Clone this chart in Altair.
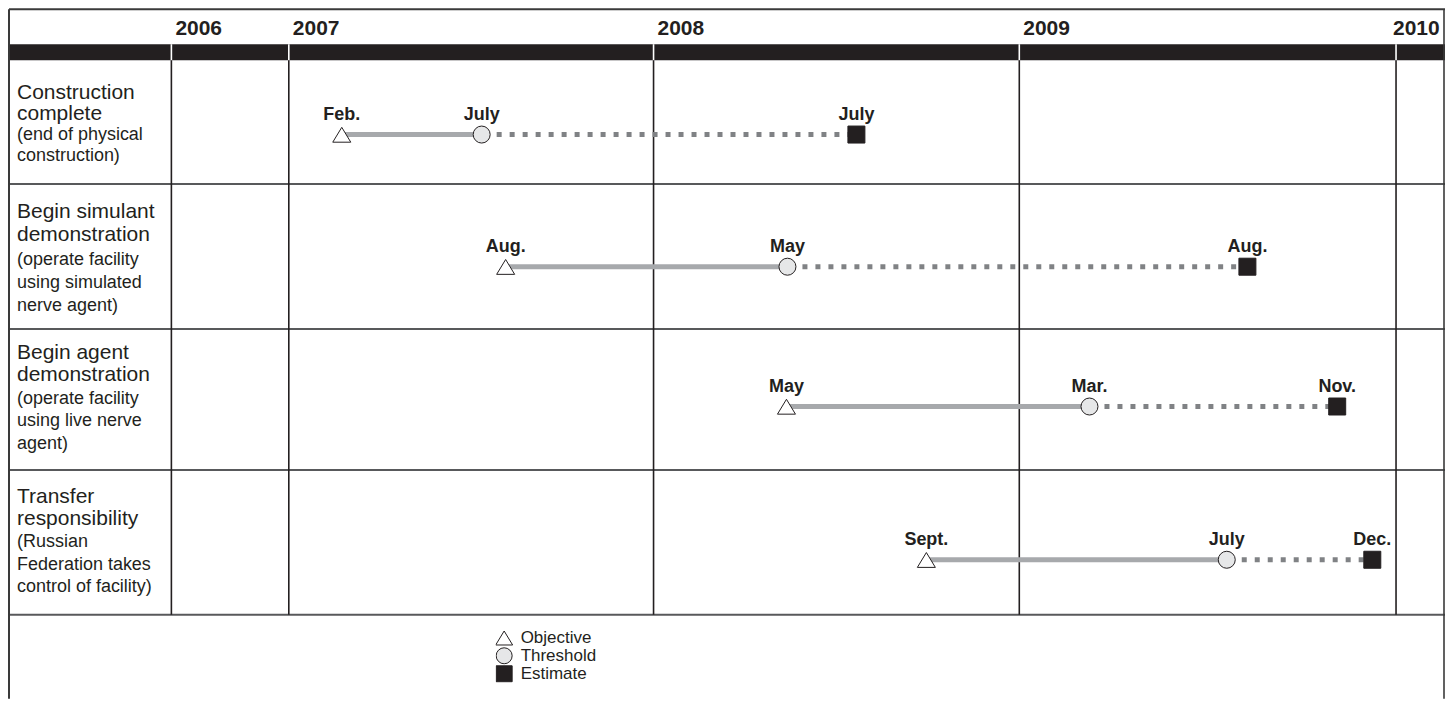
import altair as alt
import pandas as pd

# ---------------- data ----------------
years = [2006, 2007, 2008, 2009, 2010]
label_titles = [
    ["Construction", "complete"],
    ["Begin simulant", "demonstration"],
    ["Begin agent", "demonstration"],
    ["Transfer", "responsibility"],
]
label_notes = [
    ["(end of physical", "construction)"],
    ["(operate facility", "using simulated", "nerve agent)"],
    ["(operate facility", "using live nerve", "agent)"],
    ["(Russian", "Federation takes", "control of facility)"],
]
objective_dates = ["2007-02-23", "2007-08-06", "2008-05-13", "2008-09-30"]
threshold_dates = ["2007-07-13", "2008-05-14", "2009-03-10", "2009-07-21"]
estimate_dates = ["2008-07-22", "2009-08-10", "2009-11-05", "2009-12-09"]
objective_labels = ["Feb.", "Aug.", "May", "Sept."]
threshold_labels = ["July", "May", "Mar.", "July"]
estimate_labels = ["July", "Aug.", "Nov.", "Dec."]
kinds = ["Objective", "Threshold", "Estimate"]

# ---------------- layout / style ----------------
FONT = "Liberation Sans"
INK = "#231f20"
W, H = 1437, 690
X_STOPS = [162.5, 280, 645, 1011, 1388]          # pixel stops of the year lines
Y_UNITS = [-2, -1, 0, 1, 2, 3, 4, 5]             # header top, band top, row bounds, bottom
Y_STOPS = [0, 35, 51, 175, 320, 461, 606, H]
LABEL_START = [0.315, 0.235, 0.21, 0.225]
LABEL_STEP = [0.165, 0.16, 0.16, 0.155]
MARK_FRAC = [0.60, 0.57, 0.55, 0.62]
TRI = "M0,-0.85L1.06,0.9L-1.06,0.9Z"

XS = alt.Scale(domain=years, range=X_STOPS, nice=False, zero=False)
YS = alt.Scale(domain=Y_UNITS, range=Y_STOPS, nice=False, zero=False)


def dec_year(s):
    d = pd.Timestamp(s)
    days = 366 if d.is_leap_year else 365
    return d.year + (d.dayofyear - 1) / days


# markers
mrows, srows = [], []
for r in range(4):
    yv = r + MARK_FRAC[r]
    trip = [(kinds[0], objective_dates[r], objective_labels[r]),
            (kinds[1], threshold_dates[r], threshold_labels[r]),
            (kinds[2], estimate_dates[r], estimate_labels[r])]
    for k, d, lab in trip:
        mrows.append({"kind": k, "xv": dec_year(d), "yv": yv, "label": lab})
    srows.append({"x_obj": dec_year(objective_dates[r]),
                  "x_thr": dec_year(threshold_dates[r]),
                  "x_est": dec_year(estimate_dates[r]), "yv": yv})
markers = pd.DataFrame(mrows)
segs = pd.DataFrame(srows)

# row labels
lrows = []
for r in range(4):
    lines = [(t, 21) for t in label_titles[r]] + [(t, 18) for t in label_notes[r]]
    for i, (t, sz) in enumerate(lines):
        lrows.append({"text": t, "size": sz,
                      "yv": r + LABEL_START[r] + i * LABEL_STEP[r]})
labels = pd.DataFrame(lrows)

xenc = lambda f: alt.X(f, scale=XS, axis=None)
yenc = lambda f: alt.Y(f, scale=YS, axis=None)

# frame pieces
band = alt.Chart(pd.DataFrame({"y": [-1], "y2": [0]})).mark_rect(color=INK).encode(
    x=alt.value(0), x2=alt.value(W), y=yenc("y:Q"), y2="y2:Q")

hlines = alt.Chart(pd.DataFrame({"y": [1, 2, 3, 4]})).mark_rule(
    color="#58595b", strokeWidth=2).encode(x=alt.value(0), x2=alt.value(W), y=yenc("y:Q"))

vlines = alt.Chart(pd.DataFrame({"x": years, "y": [0] * 5, "y2": [4] * 5})).mark_rule(
    color=INK, strokeWidth=1.6).encode(x=xenc("x:Q"), y=yenc("y:Q"), y2="y2:Q")

vband = alt.Chart(pd.DataFrame({"x": years, "y": [-1] * 5, "y2": [0] * 5})).mark_rule(
    color="white", strokeWidth=1.6).encode(x=xenc("x:Q"), y=yenc("y:Q"), y2="y2:Q")

left_border = alt.Chart(pd.DataFrame({"y": [-2], "y2": [5]})).mark_rule(
    color="#3a3a3a", strokeWidth=2).encode(x=alt.value(0), y=yenc("y:Q"), y2="y2:Q")
right_border = alt.Chart(pd.DataFrame({"y": [-2], "y2": [5]})).mark_rule(
    color="#3a3a3a", strokeWidth=1.6).encode(x=alt.value(W - 1), y=yenc("y:Q"), y2="y2:Q")
top_border = alt.Chart(pd.DataFrame({"y": [-2]})).mark_rule(
    color="#3a3a3a", strokeWidth=2).encode(x=alt.value(0), x2=alt.value(W), y=yenc("y:Q"))

ydf = pd.DataFrame({"x": years, "t": [str(y) for y in years], "y": [-1.25] * 5})
year_txt = alt.Chart(ydf[ydf.x < 2010]).mark_text(
    font=FONT, fontSize=21, fontWeight="bold", align="left", baseline="alphabetic",
    dx=4, color=INK).encode(x=xenc("x:Q"), y=yenc("y:Q"), text="t:N")
year_last = alt.Chart(ydf[ydf.x == 2010]).mark_text(
    font=FONT, fontSize=21, fontWeight="bold", align="left", baseline="alphabetic",
    dx=-3, color=INK).encode(x=xenc("x:Q"), y=yenc("y:Q"), text="t:N")

row_txt = alt.Chart(labels).mark_text(
    font=FONT, align="left", baseline="alphabetic", color=INK).encode(
    x=alt.value(8), y=yenc("yv:Q"), text="text:N", size=alt.Size("size:Q", scale=None))

solid = alt.Chart(segs).mark_rule(color="#a7a9ac", strokeWidth=5).encode(
    x=xenc("x_obj:Q"), x2="x_thr:Q", y=yenc("yv:Q"))
dotted = alt.Chart(segs).mark_rule(color="#808285", strokeWidth=5,
                                   strokeDash=[5, 8], strokeDashOffset=-2).encode(
    x=xenc("x_thr:Q"), x2="x_est:Q", y=yenc("yv:Q"))

LEG = alt.Legend(title=None, orient="none", legendX=487, legendY=620,
                 labelFont=FONT, labelFontSize=17, labelColor=INK,
                 symbolSize=256, symbolStrokeColor=INK, symbolStrokeWidth=1,
                 rowPadding=0, labelOffset=8, padding=0, clipHeight=18)

points = alt.Chart(markers).mark_point(filled=True, opacity=1, stroke=INK,
                                       strokeWidth=1, size=289).encode(
    x=xenc("xv:Q"), y=yenc("yv:Q"),
    shape=alt.Shape("kind:N", scale=alt.Scale(domain=kinds, range=[TRI, "circle", "square"]),
                    legend=LEG),
    fill=alt.Fill("kind:N", scale=alt.Scale(domain=kinds, range=["#ffffff", "#e6e7e8", INK]),
                  legend=LEG),
    stroke=alt.Stroke("kind:N", scale=alt.Scale(domain=kinds, range=[INK, INK, INK]),
                      legend=LEG),
)

month_txt = alt.Chart(markers).mark_text(
    font=FONT, fontSize=18, fontWeight="bold", baseline="alphabetic", dy=-15,
    color=INK).encode(x=xenc("xv:Q"), y=yenc("yv:Q"), text="label:N")

chart = alt.layer(
    band, vband, hlines, vlines, left_border, right_border, top_border,
    year_txt, year_last, row_txt, solid, dotted, points, month_txt,
).properties(width=W, height=H, padding=0, background="white").configure_view(stroke=None)

chart.save("out.html", embed_options={"renderer": "svg", "actions": False})
